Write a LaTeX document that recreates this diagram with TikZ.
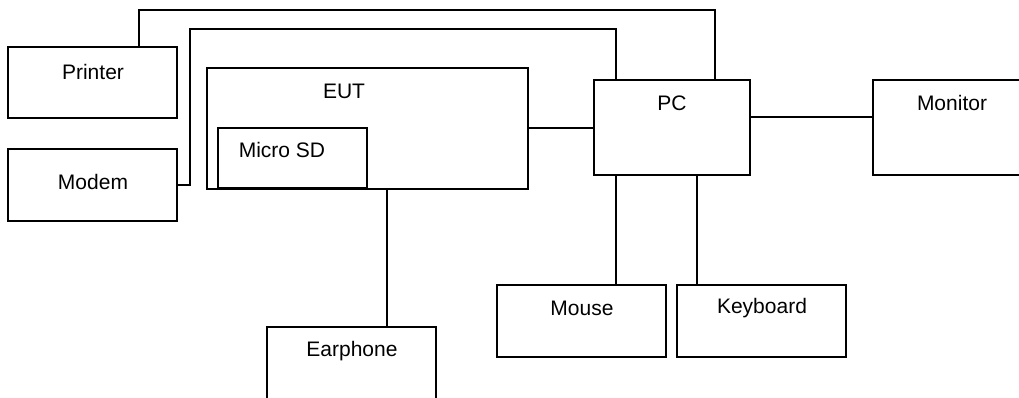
\documentclass[tikz,border=0pt]{standalone}
\usepackage{fontspec}
\setmainfont{Liberation Sans}
\begin{document}
\begin{tikzpicture}[x=1pt,y=-1pt,
  box/.style={draw,line width=1.2pt,rectangle,inner sep=0pt,outer sep=0pt},
  lbl/.style={font=\fontsize{21}{25}\selectfont,inner sep=0pt},
  wire/.style={line width=1.2pt}]
\useasboundingbox (0,0) rectangle (1019,397);
\clip (0,0) rectangle (1019,397);
% boxes
\node[box,minimum width=169pt,minimum height=71pt] (printer) at (92.5,82.5) {};
\node[box,minimum width=169pt,minimum height=72pt] (modem) at (92.5,185) {};
\node[box,minimum width=321pt,minimum height=121pt] (eut) at (367.5,128.5) {};
\node[box,minimum width=149pt,minimum height=60pt] (sd) at (292.5,158) {};
\node[box,minimum width=156pt,minimum height=95pt] (pc) at (672,127.5) {};
\node[box,minimum width=167pt,minimum height=95pt] (monitor) at (956.5,127.5) {};
\node[box,minimum width=169pt,minimum height=72pt] (mouse) at (581.5,321) {};
\node[box,minimum width=169pt,minimum height=72pt] (keyboard) at (761.5,321) {};
\node[box,minimum width=169pt,minimum height=74pt] (earphone) at (351.5,364) {};
% labels
\node[lbl] (tprinter) at (93,72) {Printer};
\node[lbl] (tmodem) at (93,182) {Modem};
\node[lbl] (teut) at (344,91) {EUT};
\node[lbl] (tsd) at (282,150) {Micro SD};
\node[lbl] (tpc) at (672,103) {PC};
\node[lbl] (tmonitor) at (952,103) {Monitor};
\node[lbl] (tmouse) at (582,308) {Mouse};
\node[lbl] (tkeyboard) at (762,308) {Keyboard};
\node[lbl] (tearphone) at (352,351) {Earphone};
% routing points
\coordinate (pa) at (139,10);
\coordinate (pb) at (715,10);
\coordinate (ma) at (190,185);
\coordinate (mb) at (190,29);
\coordinate (mc) at (616,29);
\coordinate (ec) at (528,128);
\coordinate (pm) at (750,117);
\coordinate (ms) at (616,175);
\coordinate (ks) at (697,175);
\coordinate (es) at (387,189);
% connectors
\draw[wire] (printer.north -| pa) -- (pa) -- (pb) -- (pc.north -| pb);
\draw[wire] (modem.east) -- (ma) -- (mb) -- (mc) -- (pc.north -| mc);
\draw[wire] (ec) -- (pc.west |- ec);
\draw[wire] (pm) -- (monitor.west |- pm);
\draw[wire] (ms) -- (mouse.north -| ms);
\draw[wire] (ks) -- (keyboard.north -| ks);
\draw[wire] (es) -- (earphone.north -| es);
\end{tikzpicture}
\end{document}
